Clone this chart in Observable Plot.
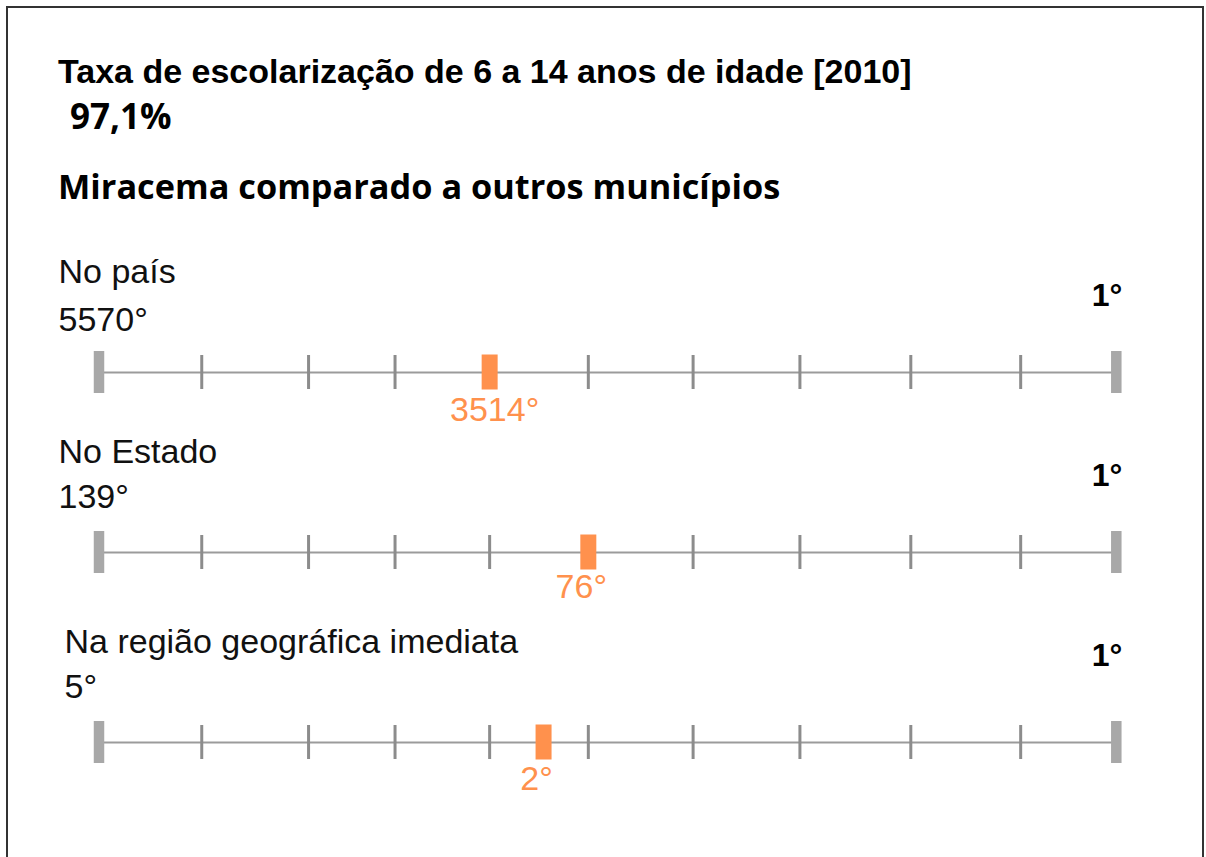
<!DOCTYPE html>
<html>
<head>
<meta charset="utf-8">
<script src="https://cdn.jsdelivr.net/npm/d3@7"></script>
<script src="https://cdn.jsdelivr.net/npm/@observablehq/plot@0.6"></script>
<style>
  html, body { margin: 0; padding: 0; background: #fff; }
  #page { position: relative; width: 1206px; height: 857px; overflow: hidden; background: #fff; }
  #frame { position: absolute; left: 6px; top: 6px; width: 1194px; height: 900px; border: 2px solid #333; }
  .t { position: absolute; white-space: nowrap; color: #000; line-height: 1; margin: 0; }
  #title { left: 58px; top: 52px; font: bold 34px "Liberation Sans", Arial, sans-serif; }
  #value { left: 70px; top: 92px; font: bold 35px "Open Sans", sans-serif; }
  #subtitle { left: 58px; top: 162px; font: bold 34.3px "Open Sans", sans-serif; }
  .row { position: absolute; left: 0; }
</style>
</head>
<body>
<div id="page">
  <div id="frame"></div>
  <div id="title" class="t"></div>
  <div id="value" class="t"></div>
  <div id="subtitle" class="t"></div>
  <div id="rows"></div>
</div>
<script>
// ---- data ----
const titleText = "Taxa de escolarização de 6 a 14 anos de idade [2010]";
const valueText = "97,1%";
const subtitleText = "Miracema comparado a outros municípios";

const rowLabels = ["No país", "No Estado", "Na região geográfica imediata"];
const totalCount = [5570, 139, 5];         // last place (left end)
const bestRank = [1, 1, 1];                // first place (right end)
const cityRank = [3514, 76, 2];            // Miracema's rank
const cityPos = [38.4, 48.1, 43.7];        // marker position along the bar (% of bar)
const tickPos = [0, 10.1, 20.6, 29.1, 38.4, 48.1, 58.4, 68.9, 79.8, 90.6, 100];

// ---- layout (not data) ----
const rowLayout = [
  {top: 232, labelDx: -40.5, labelDy: -90, totalDy: -42, bestDy: -67, rankDy: 48, rankDx: 5},
  {top: 412, labelDx: -40.5, labelDy: -90, totalDy: -45, bestDy: -67, rankDy: 45, rankDx: -7},
  {top: 602, labelDx: -34.5, labelDy: -90, totalDy: -45, bestDy: -77, rankDy: 47, rankDx: -7}
];

document.getElementById("title").textContent = titleText;
document.getElementById("value").textContent = valueText;
document.getElementById("subtitle").textContent = subtitleText;

const orange = "#ff914d";
const font = "'Liberation Sans', Arial, sans-serif";
const W = 1206, H = 200, L = 140;
const mL = 98.5, mR = W - 1115.8;

const rowsDiv = document.getElementById("rows");
rowLabels.forEach((label, i) => {
  const lay = rowLayout[i];
  const row = {label, total: totalCount[i], best: bestRank[i], rank: cityRank[i], pos: cityPos[i]};
  const ends = [tickPos[0], tickPos[tickPos.length - 1]];
  const inner = tickPos.slice(1, -1);
  const plot = Plot.plot({
    width: W, height: H,
    marginLeft: mL, marginRight: mR, marginTop: 0, marginBottom: 0,
    style: {background: "transparent", overflow: "visible", fontFamily: font},
    x: {domain: [0, 100], axis: null},
    y: {domain: [-L, H - L], range: [0, H], axis: null},
    marks: [
      Plot.ruleY([row], {y: () => 0, x1: () => ends[0], x2: () => ends[1], stroke: "#9b9b9b", strokeWidth: 2}),
      Plot.ruleX(inner, {x: d => d, y1: () => -17, y2: () => 17, stroke: "#8c8c8c", strokeWidth: 3}),
      Plot.ruleX(ends, {x: d => d, y1: () => -21, y2: () => 21, stroke: "#a8a8a8", strokeWidth: 10.5}),
      Plot.ruleX([row], {x: "pos", y1: () => -17.5, y2: () => 17.5, stroke: orange, strokeWidth: 16}),
      Plot.text([row], {x: "pos", y: () => 0, dx: lay.rankDx, dy: lay.rankDy, text: d => d.rank + "°", lineAnchor: "bottom",
        textAnchor: "middle", fill: orange, fontSize: 34, fontFamily: font}),
      Plot.text([row], {frameAnchor: "left", y: () => 0, dx: lay.labelDx, dy: lay.labelDy, text: "label",
        textAnchor: "start", lineAnchor: "bottom", fill: "#111", fontSize: 34, fontFamily: font}),
      Plot.text([row], {frameAnchor: "left", y: () => 0, dx: lay.labelDx, dy: lay.totalDy, text: d => d.total + "°",
        textAnchor: "start", lineAnchor: "bottom", fill: "#111", fontSize: 34, fontFamily: font}),
      Plot.text([row], {frameAnchor: "right", y: () => 0, dx: 6, dy: lay.bestDy, text: d => d.best + "°",
        textAnchor: "end", lineAnchor: "bottom", fill: "#000", fontSize: 32, fontWeight: "bold", fontFamily: font})
    ]
  });
  plot.classList.add("row");
  plot.style.top = lay.top + "px";
  rowsDiv.appendChild(plot);
});
</script>
</body>
</html>
